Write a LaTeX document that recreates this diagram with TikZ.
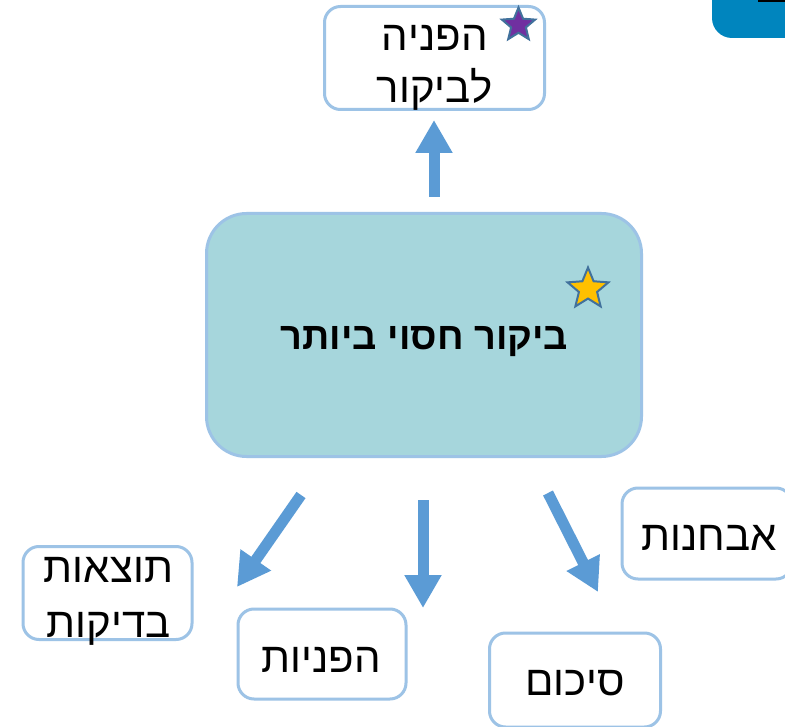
\documentclass[tikz,border=0pt]{standalone}
\usepackage{fontspec}
\setmainfont{Liberation Sans}
\TeXXeTstate=1
\usetikzlibrary{shapes.geometric,arrows.meta}
\definecolor{boxline}{RGB}{157,195,230}
\definecolor{arrowblue}{RGB}{91,155,213}
\definecolor{mainfill}{RGB}{166,214,220}
\definecolor{cornerblue}{RGB}{0,133,190}
\definecolor{starline}{RGB}{65,113,156}
\definecolor{starpurple}{RGB}{112,48,160}
\definecolor{staryellow}{RGB}{255,192,0}
\newcommand{\heb}[1]{\beginR #1\endR}
\begin{document}
\begin{tikzpicture}[x=1pt,y=-1pt,
  labelbox/.style={draw=boxline, line width=3pt, rounded corners=16pt, fill=white, inner sep=0pt},
  labeltext/.style={anchor=base, inner sep=0pt, font=\fontsize{42}{50}\selectfont},
  blockarrow/.style={draw=arrowblue, line width=11pt, -{Triangle[length=33pt,width=35pt]}},
  starshape/.style={star, star points=5, star point ratio=2.25, draw=starline, line width=2pt, inner sep=0pt}]
\useasboundingbox (0,0) rectangle (785,727);
\clip (0,0) rectangle (785,727);
\fill[white] (0,0) rectangle (785,727);
% corner decoration
\fill[cornerblue, rounded corners=20pt] (712,-30) -- (712,38) -- (820,38) -- (820,-30) -- cycle;
\fill[black] (758,0) rectangle (785,2.5);
% top box
\node[labelbox, minimum width=220pt, minimum height=103pt] (top) at (434.5,58) {};
\node[labeltext] (top1) at (435,51) {\heb{הפניה}};
\node[labeltext] (top2) at (435,103) {\heb{לביקור}};
\node[starshape, fill=starpurple, minimum size=35pt] (pstar) at (518.5,25) {};
% main box
\node[draw=boxline, line width=3pt, fill=mainfill, rounded corners=40pt,
      minimum width=435pt, minimum height=243pt] (main) at (424,335) {};
\node[anchor=base, inner sep=0pt, font=\fontsize{38}{44}\selectfont\bfseries] (maintext) at (424.5,350) {\heb{ביקור חסוי ביותר}};
\node[starshape, fill=staryellow, minimum size=43pt] (ystar) at (588,289) {};
% bottom boxes
\node[labelbox, minimum width=169pt, minimum height=93pt] (tb) at (107.5,593) {};
\node[labeltext] (tb1) at (108.5,582) {\heb{תוצאות}};
\node[labeltext] (tb2) at (108.5,637) {\heb{בדיקות}};
\node[labelbox, minimum width=168pt, minimum height=90pt] (hp) at (322,654) {};
\node[labeltext] (hptext) at (321,672) {\heb{הפניות}};
\node[labelbox, minimum width=171pt, minimum height=94pt] (sk) at (575,680) {};
\node[labeltext] (sktext) at (575,695) {\heb{סיכום}};
\node[labelbox, minimum width=170pt, minimum height=91pt] (av) at (707,533.5) {};
\node[labeltext] (avtext) at (709,550) {\heb{אבחנות}};
% arrows
\coordinate (u1) at (434,197);
\coordinate (u2) at (434,120);
\coordinate (l1) at (301,495);
\coordinate (l2) at (237,587);
\coordinate (m1) at (423,500);
\coordinate (m2) at (423,608);
\coordinate (r1) at (548,493);
\coordinate (r2) at (598,592);
\draw[blockarrow] (u1) -- (u2);
\draw[blockarrow] (l1) -- (l2);
\draw[blockarrow] (m1) -- (m2);
\draw[blockarrow] (r1) -- (r2);
\end{tikzpicture}
\end{document}
